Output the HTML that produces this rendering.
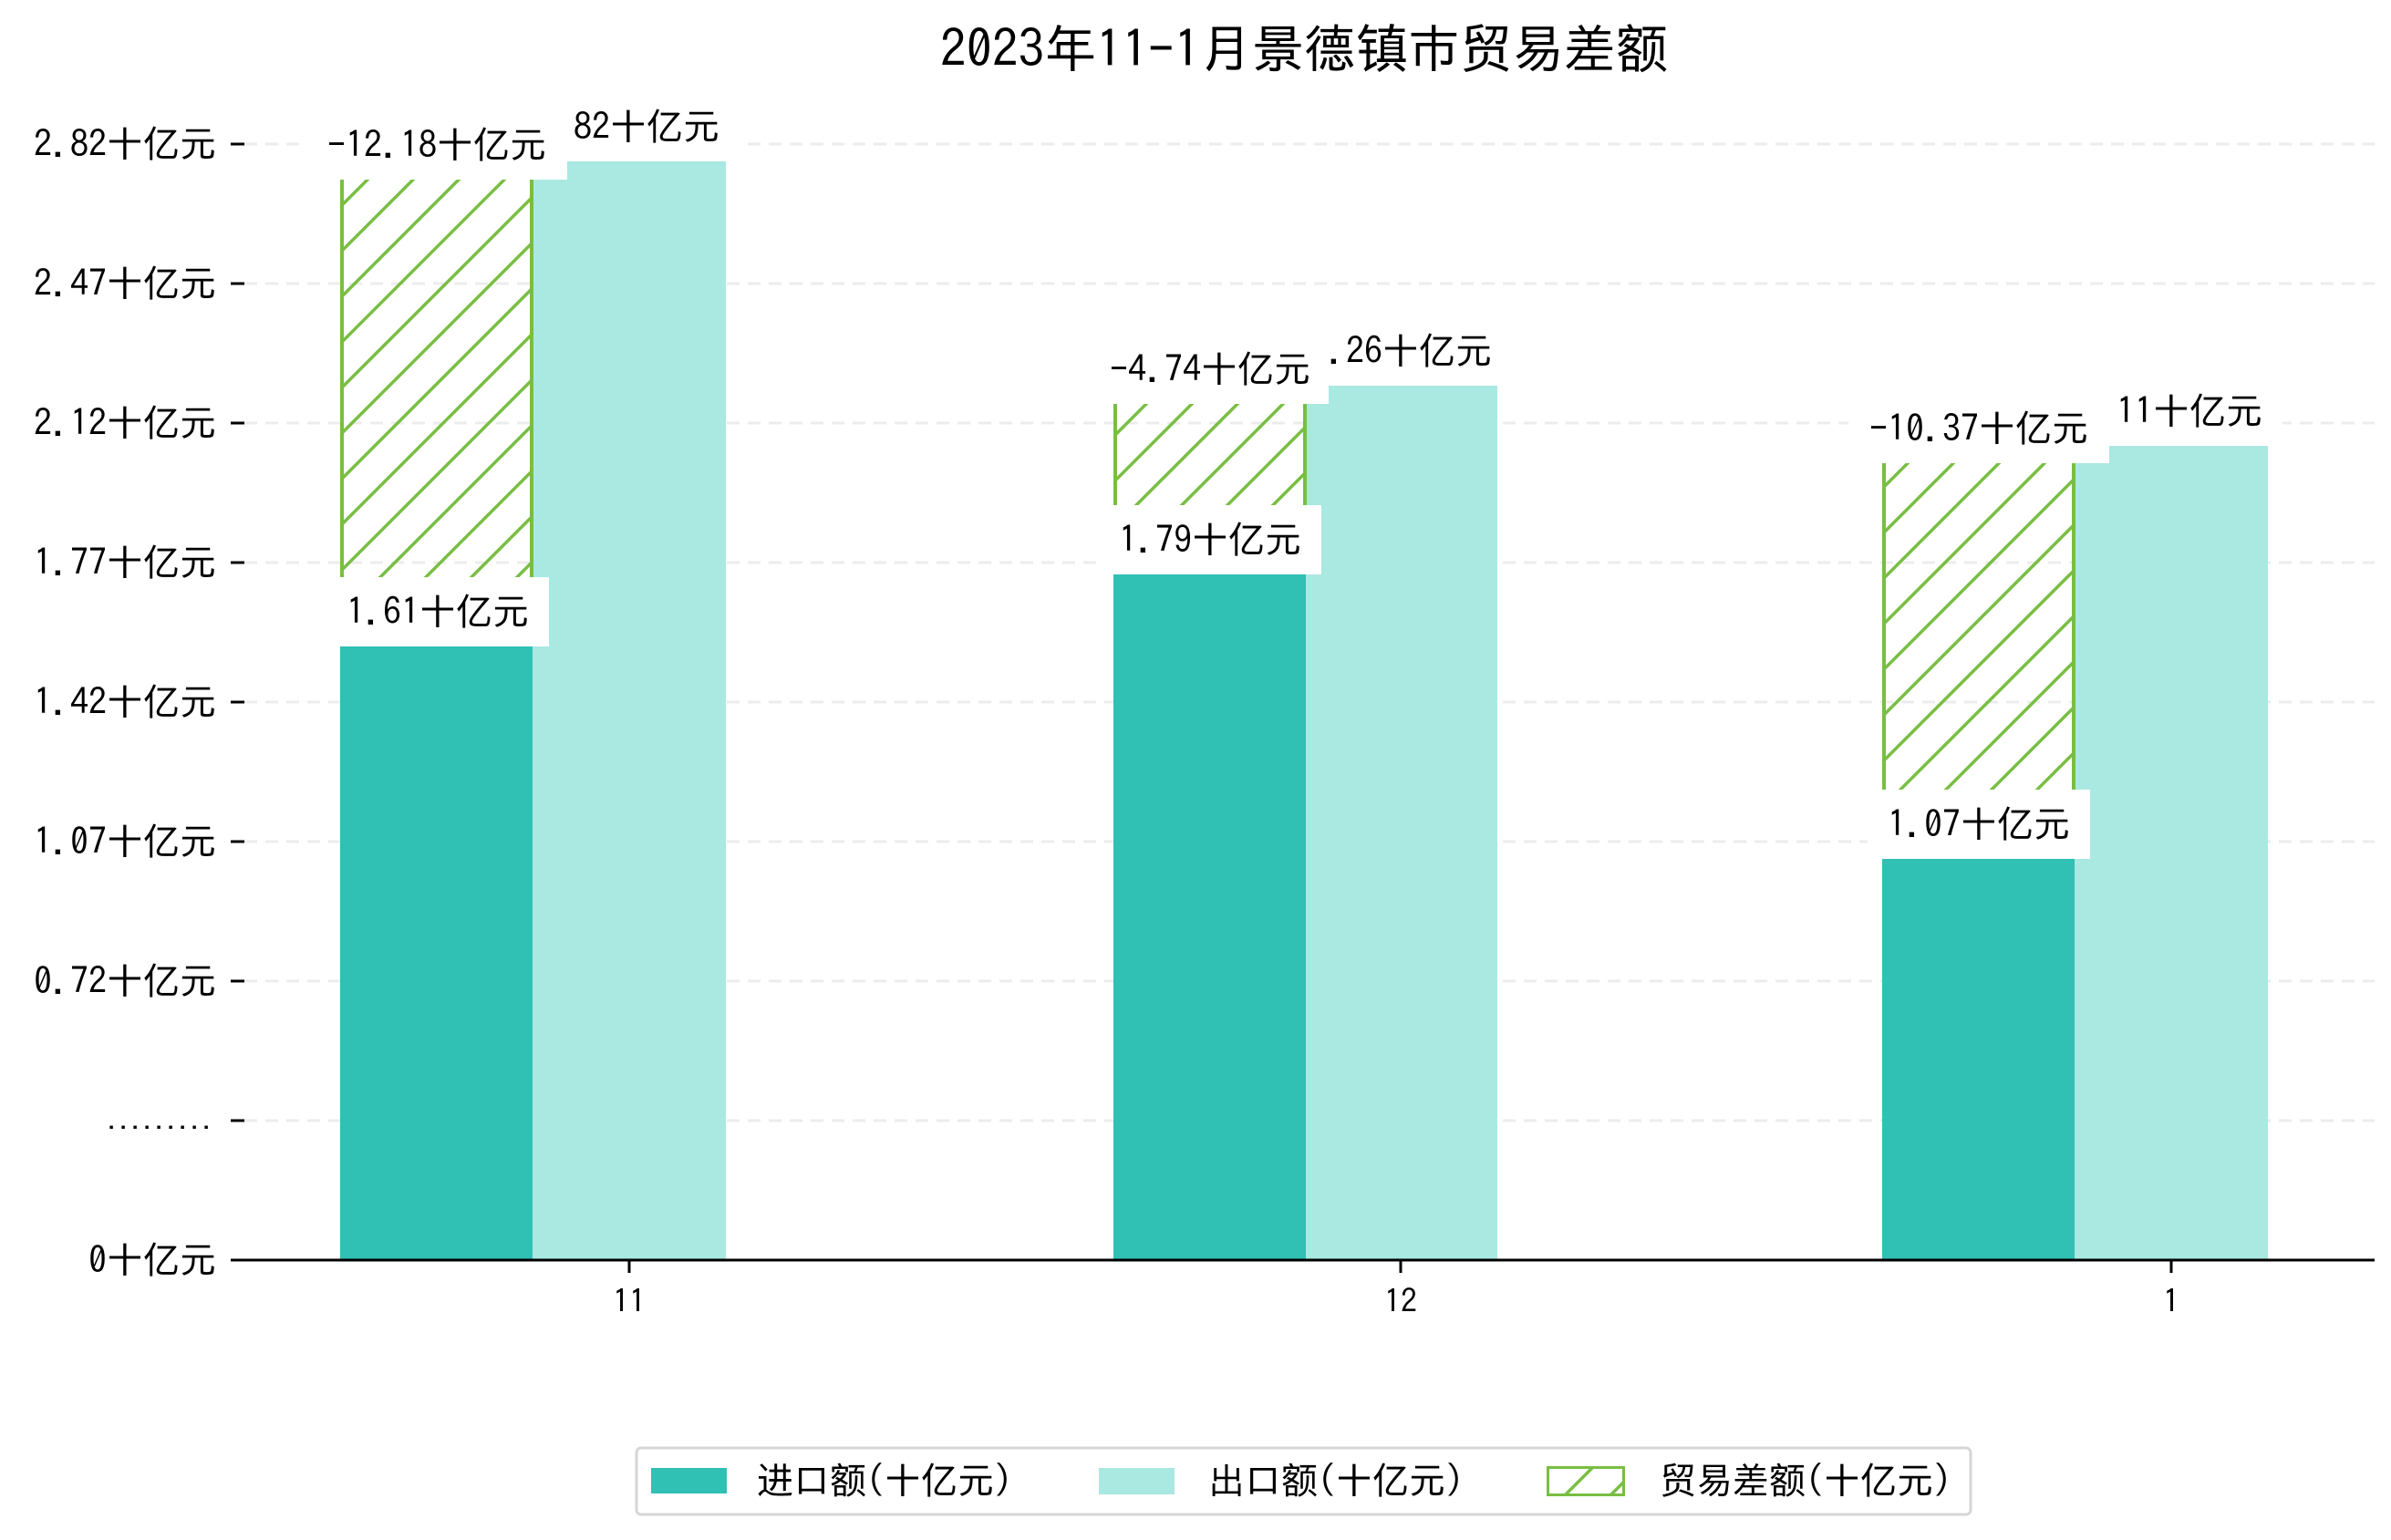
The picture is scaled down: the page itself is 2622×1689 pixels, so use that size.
<!DOCTYPE html>
<html><head><meta charset="utf-8"><style>
html,body{margin:0;padding:0;background:#fff;}
svg{display:block;}
text{font-family:"IPAGothic","WenQuanYi Zen Hei","Noto Sans CJK SC",sans-serif;fill:#000;}
</style></head><body>
<svg width="2622" height="1689" viewBox="0 0 2622 1689" xmlns="http://www.w3.org/2000/svg">
<defs>
<pattern id="h" patternUnits="userSpaceOnUse" width="50" height="50">
<path d="M-5,55 L55,-5 M-30,30 L30,-30 M20,80 L80,20" stroke="#78be43" stroke-width="3.5"/>
</pattern>
</defs>
<rect width="2622" height="1689" fill="#fff"/>
<text x="1430" y="74" font-size="57" text-anchor="middle">2023年11-1月景德镇市贸易差额</text>
<g stroke="#ececec" stroke-width="3" stroke-dasharray="14 9">
<line x1="268" y1="1229" x2="2604" y2="1229"/>
<line x1="268" y1="1076" x2="2604" y2="1076"/>
<line x1="268" y1="923" x2="2604" y2="923"/>
<line x1="268" y1="770" x2="2604" y2="770"/>
<line x1="268" y1="617" x2="2604" y2="617"/>
<line x1="268" y1="464" x2="2604" y2="464"/>
<line x1="268" y1="311" x2="2604" y2="311"/>
<line x1="268" y1="158" x2="2604" y2="158"/>
</g>
<g font-size="40" text-anchor="end">
<text x="237" y="1396">0十亿元</text>
<text x="235" y="1238" font-size="26">.........</text>
<text x="237" y="1090">0.72十亿元</text>
<text x="237" y="937">1.07十亿元</text>
<text x="237" y="784">1.42十亿元</text>
<text x="237" y="631">1.77十亿元</text>
<text x="237" y="478">2.12十亿元</text>
<text x="237" y="325">2.47十亿元</text>
<text x="237" y="172">2.82十亿元</text>
</g>
<g stroke="#000" stroke-width="3">
<line x1="253" y1="1382" x2="268" y2="1382"/>
<line x1="253" y1="1229" x2="268" y2="1229"/>
<line x1="253" y1="1076" x2="268" y2="1076"/>
<line x1="253" y1="923" x2="268" y2="923"/>
<line x1="253" y1="770" x2="268" y2="770"/>
<line x1="253" y1="617" x2="268" y2="617"/>
<line x1="253" y1="464" x2="268" y2="464"/>
<line x1="253" y1="311" x2="268" y2="311"/>
<line x1="253" y1="158" x2="268" y2="158"/>
</g>
<rect x="373" y="709" width="211" height="673" fill="#30c0b4"/>
<rect x="584" y="177" width="212" height="1205" fill="#aae8e2"/>
<rect x="1221" y="630" width="211" height="752" fill="#30c0b4"/>
<rect x="1432" y="423" width="210" height="959" fill="#aae8e2"/>
<rect x="2064" y="942" width="211" height="440" fill="#30c0b4"/>
<rect x="2275" y="489" width="212" height="893" fill="#aae8e2"/>
<rect x="374.5" y="197" width="208" height="512" fill="url(#h)"/>
<rect x="1222.5" y="443" width="208" height="187" fill="url(#h)"/>
<rect x="2065.5" y="508" width="208" height="434" fill="url(#h)"/>
<g stroke="#78be43" stroke-width="4">
<line x1="375" y1="197" x2="375" y2="709"/><line x1="583" y1="197" x2="583" y2="709"/>
<line x1="1223" y1="443" x2="1223" y2="630"/><line x1="1431" y1="443" x2="1431" y2="630"/>
<line x1="2066" y1="508" x2="2066" y2="942"/><line x1="2274" y1="508" x2="2274" y2="942"/>
</g>
<g font-size="40" text-anchor="middle">
<rect x="567" y="101" width="244" height="76" fill="#fff"/><text x="689" y="153">2.82十亿元</text>
<rect x="1414" y="347" width="244" height="76" fill="#fff"/><text x="1536" y="399">2.26十亿元</text>
<rect x="2259" y="413" width="244" height="76" fill="#fff"/><text x="2381" y="465">2.11十亿元</text>
<rect x="358" y="633" width="244" height="76" fill="#fff"/><text x="480" y="685">1.61十亿元</text>
<rect x="1205" y="554" width="244" height="76" fill="#fff"/><text x="1327" y="606">1.79十亿元</text>
<rect x="2048" y="866" width="244" height="76" fill="#fff"/><text x="2170" y="918">1.07十亿元</text>
<rect x="336" y="121" width="286" height="76" fill="#fff"/><text x="479" y="173">-12.18十亿元</text>
<rect x="1197" y="367" width="260" height="76" fill="#fff"/><text x="1327" y="419">-4.74十亿元</text>
<rect x="2027" y="432" width="286" height="76" fill="#fff"/><text x="2170" y="484">-10.37十亿元</text>
</g>
<line x1="253" y1="1382" x2="2604" y2="1382" stroke="#000" stroke-width="3"/>
<g stroke="#000" stroke-width="3">
<line x1="690" y1="1382" x2="690" y2="1396"/>
<line x1="1536" y1="1382" x2="1536" y2="1396"/>
<line x1="2381" y1="1382" x2="2381" y2="1396"/>
</g>
<g font-size="36" text-anchor="middle">
<text x="690" y="1440">11</text>
<text x="1536" y="1440">12</text>
<text x="2381" y="1440">1</text>
</g>
<rect x="698" y="1588" width="1463" height="73" rx="5" fill="#fff" stroke="#d6d6d6" stroke-width="3"/>
<rect x="714" y="1610" width="83" height="28" fill="#30c0b4"/>
<rect x="1205" y="1610" width="83" height="29" fill="#aae8e2"/>
<svg x="1697" y="1609" width="84" height="31"><rect x="0" y="0" width="84" height="31" fill="url(#h)"/></svg>
<rect x="1697.5" y="1609.5" width="83" height="30" fill="none" stroke="#78be43" stroke-width="3"/>
<g font-size="40">
<text x="830" y="1638">进口额(十亿元)</text>
<text x="1325" y="1638">出口额(十亿元)</text>
<text x="1820" y="1638">贸易差额(十亿元)</text>
</g>
</svg>
</body></html>
